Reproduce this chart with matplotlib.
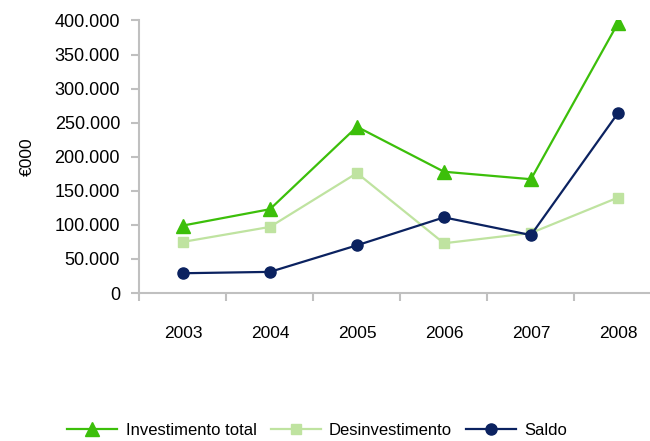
import matplotlib.pyplot as plt
from matplotlib.ticker import FuncFormatter, FixedLocator

years = ["2003", "2004", "2005", "2006", "2007", "2008"]
investimento = [99000, 123000, 244000, 178000, 167000, 396000]
desinvestimento = [75000, 97000, 176000, 73000, 88000, 140000]
saldo = [29000, 31000, 70000, 111000, 85000, 264000]

plt.rcParams['font.family'] = ['Liberation Sans', 'DejaVu Sans']

fig = plt.figure(figsize=(6.5, 4.41), dpi=100)
ax = fig.add_axes([0.2146, 0.3356, 0.803, 0.618])

x = range(len(years))
ax.plot(x, investimento, color='#3cbf0a', lw=1.6, marker='^', markersize=10,
        label='Investimento total')
ax.plot(x, desinvestimento, color='#bfe3a0', lw=1.6, marker='s', markersize=7,
        label='Desinvestimento')
ax.plot(x, saldo, color='#0b2260', lw=1.6, marker='o', markersize=8,
        label='Saldo')

ax.set_xlim(-0.5, len(years) - 0.5)
ax.set_ylim(0, 400000)
ax.set_yticks(range(0, 400001, 50000))
ax.yaxis.set_major_formatter(FuncFormatter(lambda v, p: f"{int(v):,}".replace(',', '.')))
ax.set_xticks(list(x))
ax.set_xticklabels(years)
ax.xaxis.set_minor_locator(FixedLocator([i - 0.5 for i in range(len(years) + 1)]))

for s in ['top', 'right']:
    ax.spines[s].set_visible(False)
for s in ['left', 'bottom']:
    ax.spines[s].set_color('#c0c0c0')
    ax.spines[s].set_linewidth(1.5)

ax.tick_params(axis='y', length=6, width=1.5, color='#c0c0c0', labelsize=13, pad=8)
ax.tick_params(axis='x', which='major', length=0, labelsize=12.5, pad=24)
ax.tick_params(axis='x', which='minor', length=6, width=1.5, color='#c0c0c0')

ax.set_ylabel('€000', fontsize=12.5, labelpad=14)

ax.legend(loc='center', bbox_to_anchor=(0.341, -0.503), ncol=3, frameon=False,
          fontsize=12, handlelength=3.0, columnspacing=0.85, handletextpad=0.5)

fig.savefig('out.png', dpi=100)
